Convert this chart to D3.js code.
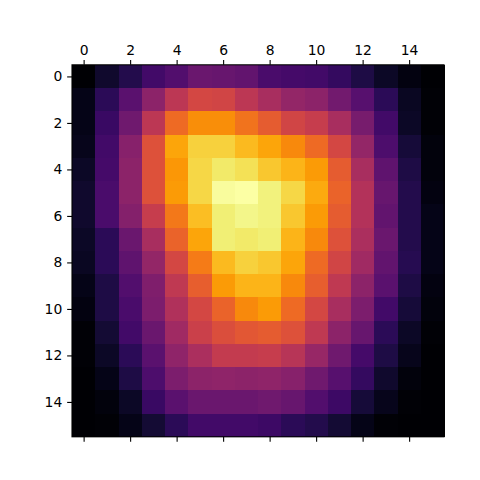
<!DOCTYPE html>
<html>
<head>
<meta charset="utf-8">
<script src="https://cdn.jsdelivr.net/npm/d3@7"></script>
<style>
  body { margin: 0; background: #fff; }
  svg { display: block; }
  .tick text { font-family: "DejaVu Sans", sans-serif; font-size: 13.9px; fill: #000; }
</style>
</head>
<body>
<svg width="480" height="480"></svg>
<script>
// 16x16 matrix (row = y index, col = x index)
const rows = [
    [0.00, 0.08, 0.13, 0.20, 0.24, 0.30, 0.29, 0.28, 0.22, 0.21, 0.20, 0.17, 0.12, 0.07, 0.03, 0.00],
    [0.04, 0.15, 0.26, 0.38, 0.50, 0.57, 0.56, 0.50, 0.45, 0.40, 0.38, 0.32, 0.25, 0.15, 0.06, 0.01],
    [0.04, 0.18, 0.31, 0.50, 0.67, 0.75, 0.75, 0.69, 0.63, 0.56, 0.53, 0.45, 0.33, 0.20, 0.07, 0.01],
    [0.05, 0.20, 0.37, 0.60, 0.80, 0.89, 0.89, 0.84, 0.80, 0.74, 0.67, 0.57, 0.40, 0.23, 0.10, 0.02],
    [0.07, 0.21, 0.38, 0.60, 0.77, 0.90, 0.94, 0.92, 0.87, 0.83, 0.78, 0.63, 0.45, 0.27, 0.12, 0.02],
    [0.08, 0.22, 0.38, 0.60, 0.78, 0.90, 0.99, 1.00, 0.96, 0.90, 0.81, 0.65, 0.48, 0.29, 0.13, 0.03],
    [0.08, 0.22, 0.36, 0.53, 0.70, 0.85, 0.95, 0.97, 0.96, 0.87, 0.78, 0.63, 0.48, 0.28, 0.13, 0.04],
    [0.07, 0.15, 0.30, 0.45, 0.65, 0.80, 0.95, 0.94, 0.95, 0.83, 0.74, 0.60, 0.46, 0.30, 0.13, 0.04],
    [0.06, 0.15, 0.27, 0.40, 0.57, 0.71, 0.84, 0.89, 0.87, 0.80, 0.67, 0.56, 0.43, 0.28, 0.14, 0.04],
    [0.04, 0.12, 0.24, 0.35, 0.51, 0.64, 0.78, 0.83, 0.83, 0.74, 0.64, 0.51, 0.38, 0.26, 0.12, 0.03],
    [0.03, 0.12, 0.22, 0.34, 0.47, 0.57, 0.65, 0.74, 0.78, 0.67, 0.57, 0.45, 0.34, 0.20, 0.10, 0.02],
    [0.01, 0.09, 0.20, 0.30, 0.43, 0.54, 0.59, 0.62, 0.63, 0.60, 0.51, 0.38, 0.29, 0.15, 0.07, 0.01],
    [0.01, 0.07, 0.15, 0.26, 0.39, 0.46, 0.52, 0.52, 0.53, 0.49, 0.41, 0.31, 0.21, 0.12, 0.05, 0.00],
    [0.00, 0.04, 0.12, 0.23, 0.34, 0.38, 0.39, 0.38, 0.39, 0.37, 0.31, 0.25, 0.17, 0.08, 0.02, 0.00],
    [0.00, 0.02, 0.07, 0.18, 0.26, 0.30, 0.30, 0.30, 0.31, 0.29, 0.24, 0.19, 0.10, 0.05, 0.01, 0.00],
    [0.00, 0.01, 0.04, 0.09, 0.15, 0.20, 0.20, 0.20, 0.19, 0.15, 0.13, 0.09, 0.04, 0.01, 0.00, 0.00]
];
const xTicks = [0, 2, 4, 6, 8, 10, 12, 14];
const yTicks = [0, 2, 4, 6, 8, 10, 12, 14];

const svg = d3.select('svg');

// matshow axes box: [0.15, 0.09, 0.775, 0.775] of a 480px figure
const boxLeft = 72, boxSize = 372, boxTop = 480 - 43.2 - boxSize;
const n = rows.length;

const x = d3.scaleLinear().domain([-0.5, n - 0.5]).range([boxLeft, boxLeft + boxSize]);
const y = d3.scaleLinear().domain([-0.5, n - 0.5]).range([boxTop, boxTop + boxSize]);

const flat = rows.flat();
const color = d3.scaleSequential(d3.interpolateInferno)
    .domain([d3.min(flat), d3.max(flat)]);

const cells = rows.flatMap((r, i) => r.map((v, j) => ({ i, j, v })));

svg.append('g').selectAll('rect')
    .data(cells)
    .join('rect')
    .attr('x', d => x(d.j - 0.5))
    .attr('y', d => y(d.i - 0.5))
    .attr('width', x(1) - x(0) + 0.5)
    .attr('height', y(1) - y(0) + 0.5)
    .attr('fill', d => color(d.v))
    .attr('shape-rendering', 'crispEdges');

const tickLen = 4.86, pad = 4.86;

function styleAxis(g) {
    g.select('.domain').remove();
    g.selectAll('.tick line').attr('stroke', '#000').attr('stroke-width', 1.1);
}

// top axis with labels
svg.append('g')
    .attr('transform', `translate(0,${boxTop})`)
    .call(d3.axisTop(x).tickValues(xTicks).tickSize(tickLen).tickPadding(pad))
    .call(styleAxis);

// bottom axis, ticks only
svg.append('g')
    .attr('transform', `translate(0,${boxTop + boxSize})`)
    .call(d3.axisBottom(x).tickValues(xTicks).tickSize(tickLen).tickFormat(''))
    .call(styleAxis);

// left axis
svg.append('g')
    .attr('transform', `translate(${boxLeft},0)`)
    .call(d3.axisLeft(y).tickValues(yTicks).tickSize(tickLen).tickPadding(pad))
    .call(styleAxis);

// frame
svg.append('rect')
    .attr('x', boxLeft)
    .attr('y', boxTop)
    .attr('width', boxSize)
    .attr('height', boxSize)
    .attr('fill', 'none')
    .attr('stroke', '#000')
    .attr('stroke-width', 1.1);
</script>
</body>
</html>
